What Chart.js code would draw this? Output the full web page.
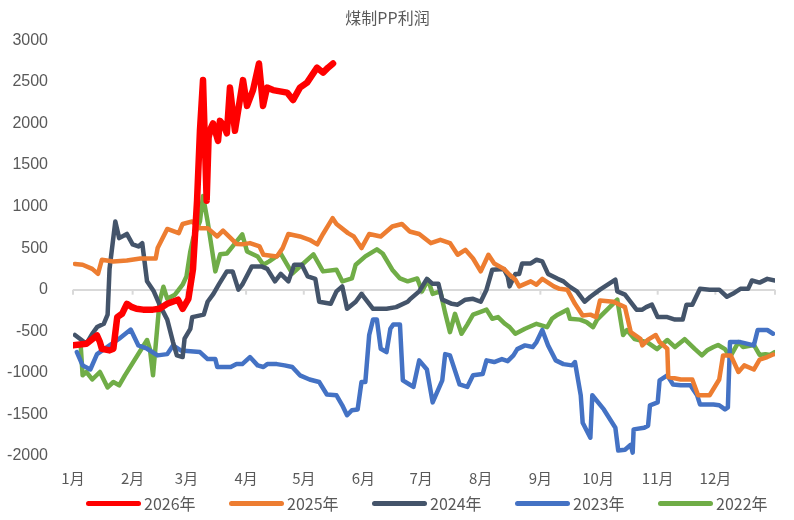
<!DOCTYPE html>
<html>
<head>
<meta charset="utf-8">
<script src="https://cdn.jsdelivr.net/npm/chart.js@4.4.1/dist/chart.umd.min.js"></script>
<style>
  html, body { margin: 0; padding: 0; background: #fff; }
  #wrap { position: relative; width: 794px; height: 520px; }
  #legend { position: absolute; left: 86px; top: 493px; height: 20px; display: flex; align-items: center;
            font-family: "Noto Sans CJK SC", sans-serif; font-size: 16px; color: #595959; }
  #legend .item { width: 143px; display: flex; align-items: center; }
  #legend .swatch { width: 55px; height: 5px; border-radius: 2.5px; margin-right: 3px; }
</style>
</head>
<body>
<div id="wrap">
  <canvas id="profitChart" width="794" height="500"></canvas>
  <div id="legend"></div>
</div>
<script>
// 煤制PP利润, x = day of year, y = 元/吨
const monthStarts = [0, 31, 59, 90, 120, 151, 181, 212, 243, 273, 304, 334];
const monthLabels = ['1月', '2月', '3月', '4月', '5月', '6月', '7月', '8月', '9月', '10月', '11月', '12月'];
const seriesNames = ['2026年', '2025年', '2024年', '2023年', '2022年'];
const seriesColors = ['#FF0000', '#ED7D31', '#44546A', '#4472C4', '#70AD47'];

const p2026 = [[0,-670],[7,-650],[12.5,-550],[14,-630],[15,-710],[19,-730],[21,-710],[23,-330],[25.5,-290],[28,-170],[30.7,-210],[33,-230],[36.4,-240],[41.6,-240],[45,-230],[49,-170],[54.6,-120],[57,-230],[60,-110],[62.4,250],[64.5,1070],[66,1910],[67.6,2520],[69.5,1070],[70.5,1830],[71.8,1950],[72.8,2000],[75.4,1790],[76.4,2030],[78.5,1970],[80,1880],[81.6,2430],[84.2,1910],[88.4,2520],[90.5,2210],[93.6,2400],[96.7,2720],[98.8,2210],[100.9,2430],[104,2400],[111.3,2370],[114.4,2280],[118,2430],[121.7,2490],[126.9,2670],[130,2610],[132.6,2670],[135.2,2720]];

const p2025 = [[1,310],[5,300],[10,250],[13,190],[15,360],[21,340],[28,350],[35,375],[43,375],[44,500],[49,730],[55,680],[57,790],[62,820],[66,740],[70,740],[75,640],[78,710],[82,620],[85,550],[88,545],[92,560],[97,520],[99,420],[106,400],[109,500],[112,670],[118,640],[123,600],[127,545],[130,670],[135,860],[137,790],[143,680],[146,640],[150,500],[154,670],[160,640],[166,760],[171,790],[175,700],[180,670],[186,560],[191,600],[196,560],[200,420],[204,480],[208,375],[212,220],[216,420],[219,315],[224,250],[227,180],[230,120],[232,40],[238,100],[241,60],[244,130],[250,40],[253,10],[257,0],[261,-170],[265,-310],[269,-300],[272,-330],[274,-130],[281,-145],[287,-210],[290,-510],[295,-590],[296,-670],[299,-600],[303,-545],[305,-630],[309,-710],[309.5,-1050],[316,-1080],[322,-1080],[325,-1270],[331,-1270],[336,-1080],[338,-790],[342,-790],[346,-990],[349,-910],[354,-960],[357,-840],[361,-810],[364,-780]];

const p2024 = [[1,-545],[7,-650],[10,-530],[12.5,-450],[16,-410],[18,-300],[19,250],[22,820],[24,620],[28,670],[31,545],[34,520],[36,560],[38.5,100],[42,-20],[45,-180],[49,-360],[52,-630],[54,-790],[57,-810],[58,-590],[61,-470],[62,-330],[68,-300],[70,-145],[73,-50],[76,70],[80,220],[83,220],[86,0],[88,60],[93,280],[98,280],[101,250],[105,100],[108,190],[112,100],[115,300],[119,300],[122,160],[126,130],[128,-145],[134,-170],[137,-20],[140,40],[142.5,-230],[147,-145],[150,-50],[154,-170],[156,-230],[163,-230],[168,-210],[174,-145],[175,-120],[180,-20],[184,130],[187,70],[190,70],[192,-120],[197,-170],[200,-180],[204,-120],[208,-110],[212,-145],[215,0],[218,240],[224,250],[226,160],[227,40],[230,190],[232,190],[233.5,315],[238,315],[241,360],[244,340],[247,190],[252,130],[255,100],[258,40],[262,-20],[266,-145],[269,-85],[274,0],[282,120],[283,-20],[287,-60],[293,-240],[296,-240],[298,-210],[301,-180],[304,-330],[309,-330],[313,-360],[317,-360],[319,-180],[322,-180],[326,10],[331,0],[336,0],[340,-85],[343,-50],[347,10],[351,10],[353,110],[357,85],[361,130],[365,110]];

const p2023 = [[2,-750],[5,-910],[9,-960],[12.5,-775],[19,-670],[24,-590],[30,-480],[34,-670],[38.5,-710],[44,-790],[49,-775],[52,-670],[56,-730],[66,-750],[70,-835],[74,-835],[75,-930],[82,-930],[85,-895],[88,-895],[92,-810],[96,-910],[99,-930],[101,-895],[106,-895],[110,-910],[114,-930],[118,-1030],[123,-1080],[128,-1110],[132,-1260],[137,-1270],[140,-1390],[142.5,-1510],[145,-1450],[148,-1440],[150,-1110],[152,-1110],[154,-545],[156,-360],[158,-360],[160,-710],[163,-750],[165,-470],[166.5,-420],[170,-420],[171.5,-1090],[175,-1140],[177,-1170],[180,-850],[184,-960],[187,-1355],[192,-1090],[193.5,-775],[196,-790],[201,-1140],[205,-1170],[208,-1030],[213,-1015],[215,-850],[219,-870],[223,-835],[226,-860],[229,-790],[231,-715],[235,-670],[239,-690],[241,-630],[244,-485],[247,-670],[251,-850],[255,-895],[259.5,-910],[261,-870],[264,-1270],[265,-1600],[269,-1780],[270,-1270],[276,-1440],[282,-1660],[283.5,-1935],[287,-1925],[290,-1865],[291,-1960],[291.5,-1680],[297,-1660],[299,-1635],[300,-1390],[304,-1355],[305,-1090],[309,-1030],[312,-1140],[316,-1150],[321,-1150],[324.5,-1270],[326,-1380],[333,-1380],[336,-1390],[339,-1440],[340.5,-1415],[341.6,-630],[347,-630],[354,-670],[356,-485],[361,-485],[364,-530]];

const p2022 = [[4,-670],[5,-1030],[7,-990],[10,-1080],[14,-990],[18,-1175],[21,-1110],[24,-1150],[27,-1030],[38.5,-605],[40,-715],[41.6,-1030],[45,-145],[47,35],[49,-110],[53,-60],[57,60],[59,160],[61,460],[62.5,620],[66,820],[67.6,1125],[70,820],[74,220],[76.5,425],[80,435],[83,520],[88,665],[90.5,460],[96,400],[99,300],[102,340],[108,435],[114,195],[125,425],[130,220],[137,240],[140,100],[145,135],[147,300],[152,400],[158,485],[161,435],[166,240],[170,135],[174,100],[179,135],[181.5,-20],[184.6,120],[187,-50],[191,-20],[193.4,-270],[196,-510],[198.6,-290],[202,-530],[205,-420],[208,-300],[211.6,-270],[215,-240],[218,-350],[221,-330],[224.6,-410],[227,-450],[230,-530],[235,-470],[241,-410],[246.5,-450],[249,-350],[252,-300],[257,-240],[258.4,-350],[263.6,-360],[267,-390],[270.4,-450],[272.5,-360],[283,-120],[286,-545],[288,-485],[292,-595],[298.5,-630],[303.7,-715],[309,-605],[313,-690],[318,-595],[323.4,-715],[327,-790],[330,-725],[333,-690],[335.4,-665],[339,-715],[341.6,-810],[346,-630],[348.4,-690],[354,-665],[357,-785],[360,-775],[362.4,-785],[365,-750]];

const seriesPoints = [p2026, p2025, p2024, p2023, p2022];
const seriesWidths = [6.5, 4.5, 4.5, 4.5, 4.5];

const zeroTicks = {
  id: 'zeroTicks',
  beforeDatasetsDraw(chart) {
    const x = chart.scales.x, y = chart.scales.y;
    const y0 = y.getPixelForValue(0);
    const c = chart.ctx;
    c.save();
    c.strokeStyle = '#d9d9d9';
    c.lineWidth = 2;
    monthStarts.concat([365]).forEach(d => {
      const px = x.getPixelForValue(d);
      c.beginPath();
      c.moveTo(px, y0);
      c.lineTo(px, y0 + 5);
      c.stroke();
    });
    c.restore();
  }
};

// legend as html, built from the chart's own legend items
const htmlLegend = {
  id: 'htmlLegend',
  afterUpdate(chart) {
    const box = document.getElementById('legend');
    box.innerHTML = '';
    chart.options.plugins.legend.labels.generateLabels(chart).forEach(item => {
      const el = document.createElement('div');
      el.className = 'item';
      const sw = document.createElement('span');
      sw.className = 'swatch';
      sw.style.background = item.strokeStyle;
      const tx = document.createElement('span');
      tx.textContent = item.text;
      el.appendChild(sw);
      el.appendChild(tx);
      box.appendChild(el);
    });
  }
};

new Chart(document.getElementById('profitChart'), {
  type: 'line',
  data: {
    datasets: seriesNames.map((name, i) => ({
      label: name,
      data: seriesPoints[i].map(p => ({ x: p[0], y: p[1] })),
      borderColor: seriesColors[i],
      backgroundColor: seriesColors[i],
      borderWidth: seriesWidths[i],
      pointRadius: 0,
      tension: 0,
      borderJoinStyle: 'round',
      borderCapStyle: 'round'
    }))
  },
  options: {
    responsive: false,
    animation: false,
    layout: { padding: { left: 0, right: 19, top: 0, bottom: 0 } },
    scales: {
      x: {
        type: 'linear',
        min: 0,
        max: 365,
        afterBuildTicks: s => { s.ticks = monthStarts.map(v => ({ value: v })); },
        ticks: {
          autoSkip: false,
          maxRotation: 0,
          padding: 13,
          color: '#595959',
          font: { family: '"Noto Sans CJK SC", sans-serif', size: 15 },
          callback: v => monthLabels[monthStarts.indexOf(v)]
        },
        grid: { display: false, drawTicks: false },
        border: { display: false }
      },
      y: {
        min: -2000,
        max: 3000,
        afterFit: s => { s.width = 73; },
        ticks: {
          stepSize: 500,
          padding: 25,
          color: '#595959',
          font: { family: '"Liberation Sans", Arial, sans-serif', size: 16 },
          callback: v => String(v)
        },
        grid: {
          drawTicks: false,
          lineWidth: 2,
          color: c => c.tick && c.tick.value === 0 ? '#d9d9d9' : 'rgba(0,0,0,0)'
        },
        border: { display: false }
      }
    },
    plugins: {
      title: {
        display: true,
        text: '煤制PP利润',
        color: '#595959',
        font: { family: '"Noto Sans CJK SC", sans-serif', size: 16, weight: 'normal' },
        padding: { top: 8, bottom: 13 }
      },
      legend: { display: false },
      tooltip: { enabled: false }
    }
  },
  plugins: [zeroTicks, htmlLegend]
});
</script>
</body>
</html>
